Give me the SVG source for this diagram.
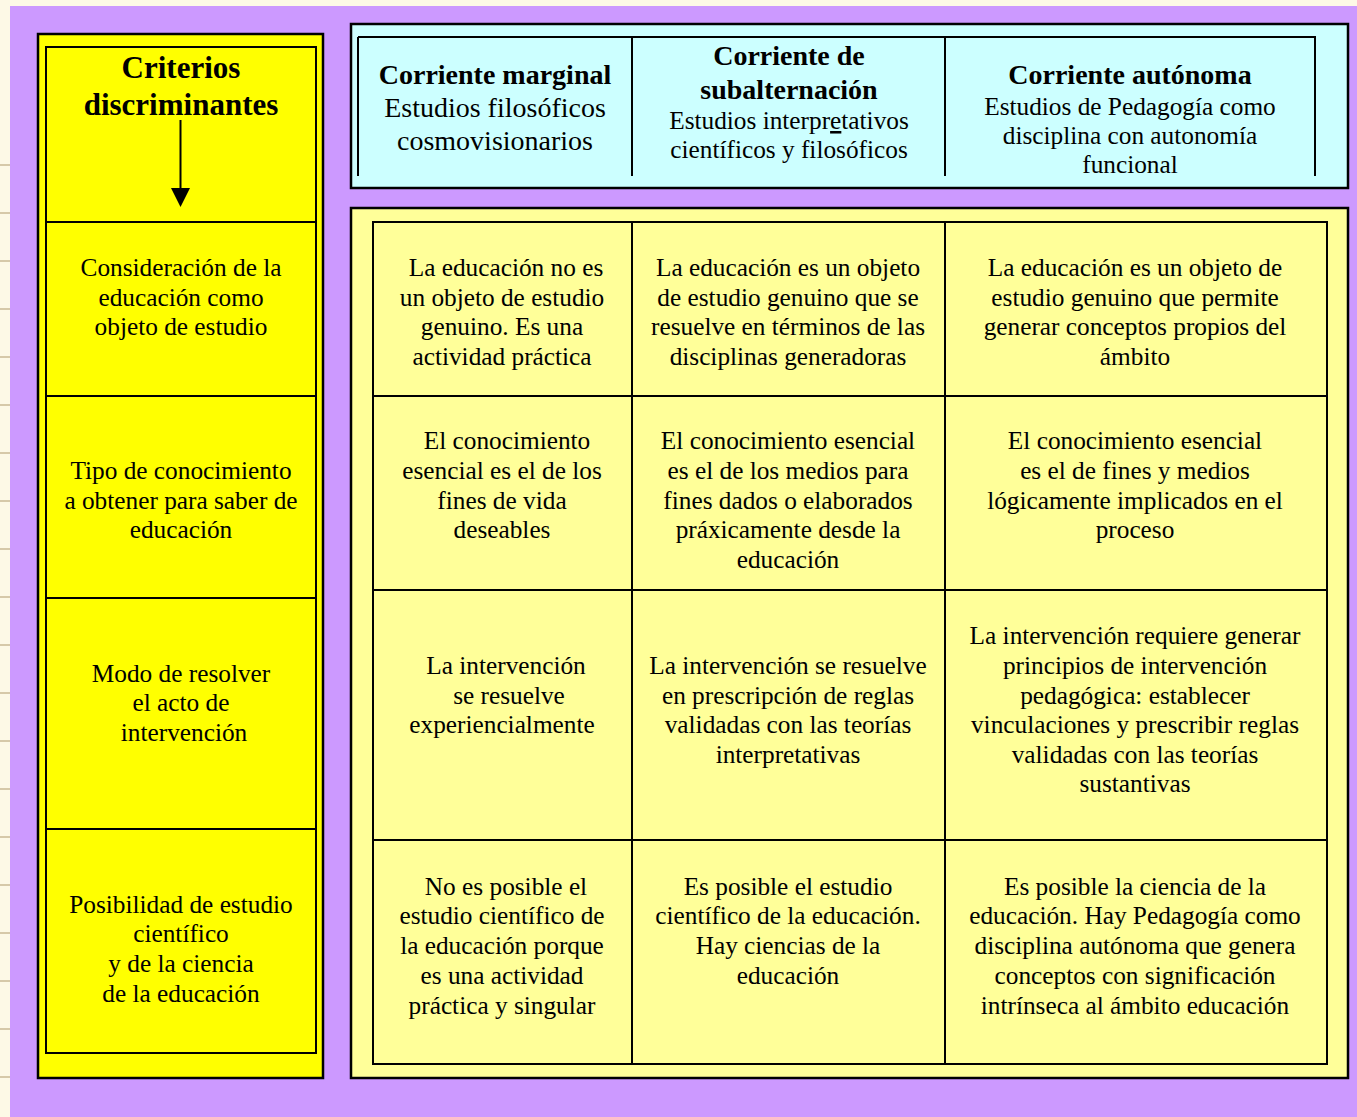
<svg xmlns="http://www.w3.org/2000/svg" width="1357" height="1117" viewBox="0 0 1357 1117">
<style>
text{font-family:"Liberation Serif",Tinos,"Times New Roman",Times,"Nimbus Roman","Nimbus Roman No9 L","Noto Serif",FreeSerif,"DejaVu Serif",serif}
.t{font-size:25.3px;fill:#000;text-anchor:middle}
.h{font-size:28px;font-weight:bold;fill:#000;text-anchor:middle}
.hs{font-size:28px}
.big{font-size:31px}
.ln{stroke:#000;stroke-width:2;fill:none}
.tick{stroke:#C9B994;stroke-width:1.5}
</style>
<rect x="0" y="0" width="1357" height="1117" fill="#FDF9E6"/>
<g id="ticks">
<line class="tick" x1="0" x2="10" y1="165" y2="165"/><line class="tick" x1="0" x2="10" y1="213" y2="213"/><line class="tick" x1="0" x2="10" y1="261" y2="261"/><line class="tick" x1="0" x2="10" y1="309" y2="309"/><line class="tick" x1="0" x2="10" y1="357" y2="357"/><line class="tick" x1="0" x2="10" y1="405" y2="405"/><line class="tick" x1="0" x2="10" y1="453" y2="453"/><line class="tick" x1="0" x2="10" y1="501" y2="501"/><line class="tick" x1="0" x2="10" y1="549" y2="549"/><line class="tick" x1="0" x2="10" y1="597" y2="597"/><line class="tick" x1="0" x2="10" y1="645" y2="645"/><line class="tick" x1="0" x2="10" y1="693" y2="693"/><line class="tick" x1="0" x2="10" y1="741" y2="741"/><line class="tick" x1="0" x2="10" y1="789" y2="789"/><line class="tick" x1="0" x2="10" y1="837" y2="837"/><line class="tick" x1="0" x2="10" y1="885" y2="885"/><line class="tick" x1="0" x2="10" y1="933" y2="933"/><line class="tick" x1="0" x2="10" y1="981" y2="981"/><line class="tick" x1="0" x2="10" y1="1029" y2="1029"/><line class="tick" x1="0" x2="10" y1="1077" y2="1077"/>
</g>
<rect x="10" y="6" width="1347" height="1111" fill="#CC99FF"/>

<g id="criterios-panel">
<rect x="38" y="34" width="285" height="1044" fill="#FFFF00" stroke="#000" stroke-width="2.5"/>
<rect class="ln" x="46" y="47" width="270" height="1006"/>
<line class="ln" x1="46" x2="316" y1="222" y2="222"/>
<line class="ln" x1="46" x2="316" y1="396" y2="396"/>
<line class="ln" x1="46" x2="316" y1="598" y2="598"/>
<line class="ln" x1="46" x2="316" y1="829" y2="829"/>
</g>
<g id="criterios-title">
<text class="h big" x="181" y="78">Criterios</text>
<text class="h big" x="181" y="115">discriminantes</text>
</g>
<g id="crit-1"><text class="t" x="181" y="276">Consideración de la</text><text class="t" x="181" y="306">educación como</text><text class="t" x="181" y="335">objeto de estudio</text></g>
<g id="crit-2"><text class="t" x="181" y="479">Tipo de conocimiento</text><text class="t" x="181" y="509">a obtener para saber de</text><text class="t" x="181" y="538">educación</text></g>
<g id="crit-3"><text class="t" x="181" y="682">Modo de resolver</text><text class="t" x="181" y="711">el acto de</text><text class="t" x="184" y="741">intervención</text></g>
<g id="crit-4"><text class="t" x="181" y="913">Posibilidad de estudio</text><text class="t" x="181" y="942">científico</text><text class="t" x="181" y="972">y de la ciencia</text><text class="t" x="181" y="1002">de la educación</text></g>

<g id="header-panel">
<rect x="351" y="24" width="997" height="164" fill="#CCFFFF" stroke="#000" stroke-width="2.5"/>
<line class="ln" x1="358" x2="1316" y1="37" y2="37"/>
<line class="ln" x1="358" x2="358" y1="37" y2="176"/>
<line class="ln" x1="632" x2="632" y1="37" y2="176"/>
<line class="ln" x1="945" x2="945" y1="37" y2="176"/>
<line class="ln" x1="1315" x2="1315" y1="37" y2="176"/>
</g>
<g id="head-marginal"><text class="h" x="495" y="84">Corriente marginal</text><text class="t hs" x="495" y="117">Estudios filosóficos</text><text class="t hs" x="495" y="150">cosmovisionarios</text></g>
<g id="head-subalternacion"><text class="h" x="789" y="65">Corriente de</text><text class="h" x="789" y="99">subalternación</text><text class="t" x="789" y="129">Estudios interpr<tspan text-decoration="underline">e</tspan>tativos</text><text class="t" x="789" y="158">científicos y filosóficos</text></g>
<g id="head-autonoma"><text class="h" x="1130" y="84">Corriente autónoma</text><text class="t" x="1130" y="115">Estudios de Pedagogía como</text><text class="t" x="1130" y="144">disciplina con autonomía</text><text class="t" x="1130" y="173">funcional</text></g>

<g id="body-panel">
<rect x="351" y="208" width="997" height="870" fill="#FFFF99" stroke="#000" stroke-width="2.5"/>
<rect class="ln" x="373" y="222" width="954" height="842"/>
<line class="ln" x1="632" x2="632" y1="222" y2="1064"/>
<line class="ln" x1="945" x2="945" y1="222" y2="1064"/>
<line class="ln" x1="373" x2="1327" y1="396" y2="396"/>
<line class="ln" x1="373" x2="1327" y1="590" y2="590"/>
<line class="ln" x1="373" x2="1327" y1="840" y2="840"/>
</g>

<g id="r1c1"><text class="t" x="506" y="276">La educación no es</text><text class="t" x="502" y="306">un objeto de estudio</text><text class="t" x="502" y="335">genuino. Es una</text><text class="t" x="502" y="365">actividad práctica</text></g>
<g id="r1c2"><text class="t" x="788" y="276">La educación es un objeto</text><text class="t" x="788" y="306">de estudio genuino que se</text><text class="t" x="788" y="335">resuelve en términos de las</text><text class="t" x="788" y="365">disciplinas generadoras</text></g>
<g id="r1c3"><text class="t" x="1135" y="276">La educación es un objeto de</text><text class="t" x="1135" y="306">estudio genuino que permite</text><text class="t" x="1135" y="335">generar conceptos propios del</text><text class="t" x="1135" y="365">ámbito</text></g>

<g id="r2c1"><text class="t" x="507" y="449">El conocimiento</text><text class="t" x="502" y="479">esencial es el de los</text><text class="t" x="502" y="509">fines de vida</text><text class="t" x="502" y="538">deseables</text></g>
<g id="r2c2"><text class="t" x="788" y="449">El conocimiento esencial</text><text class="t" x="788" y="479">es el de los medios para</text><text class="t" x="788" y="509">fines dados o elaborados</text><text class="t" x="788" y="538">práxicamente desde la</text><text class="t" x="788" y="568">educación</text></g>
<g id="r2c3"><text class="t" x="1135" y="449">El conocimiento esencial</text><text class="t" x="1135" y="479">es el de fines y medios</text><text class="t" x="1135" y="509">lógicamente implicados en el</text><text class="t" x="1135" y="538">proceso</text></g>

<g id="r3c1"><text class="t" x="506" y="674">La intervención</text><text class="t" x="509" y="704">se resuelve</text><text class="t" x="502" y="733">experiencialmente</text></g>
<g id="r3c2"><text class="t" x="788" y="674">La intervención se resuelve</text><text class="t" x="788" y="704">en prescripción de reglas</text><text class="t" x="788" y="733">validadas con las teorías</text><text class="t" x="788" y="763">interpretativas</text></g>
<g id="r3c3"><text class="t" x="1135" y="644">La intervención requiere generar</text><text class="t" x="1135" y="674">principios de intervención</text><text class="t" x="1135" y="704">pedagógica: establecer</text><text class="t" x="1135" y="733">vinculaciones y prescribir reglas</text><text class="t" x="1135" y="763">validadas con las teorías</text><text class="t" x="1135" y="792">sustantivas</text></g>

<g id="r4c1"><text class="t" x="506" y="895">No es posible el</text><text class="t" x="502" y="924">estudio científico de</text><text class="t" x="502" y="954">la educación porque</text><text class="t" x="502" y="984">es una actividad</text><text class="t" x="502" y="1014">práctica y singular</text></g>
<g id="r4c2"><text class="t" x="788" y="895">Es posible el estudio</text><text class="t" x="788" y="924">científico de la educación.</text><text class="t" x="788" y="954">Hay ciencias de la</text><text class="t" x="788" y="984">educación</text></g>
<g id="r4c3"><text class="t" x="1135" y="895">Es posible la ciencia de la</text><text class="t" x="1135" y="924">educación. Hay Pedagogía como</text><text class="t" x="1135" y="954">disciplina autónoma que genera</text><text class="t" x="1135" y="984">conceptos con significación</text><text class="t" x="1135" y="1014">intrínseca al ámbito educación</text></g>

<g id="connectors">
<line x1="180.5" y1="120" x2="180.5" y2="190" stroke="#000" stroke-width="2"/>
<polygon points="171,188 190,188 180.5,207" fill="#000"/>
</g>
</svg>
